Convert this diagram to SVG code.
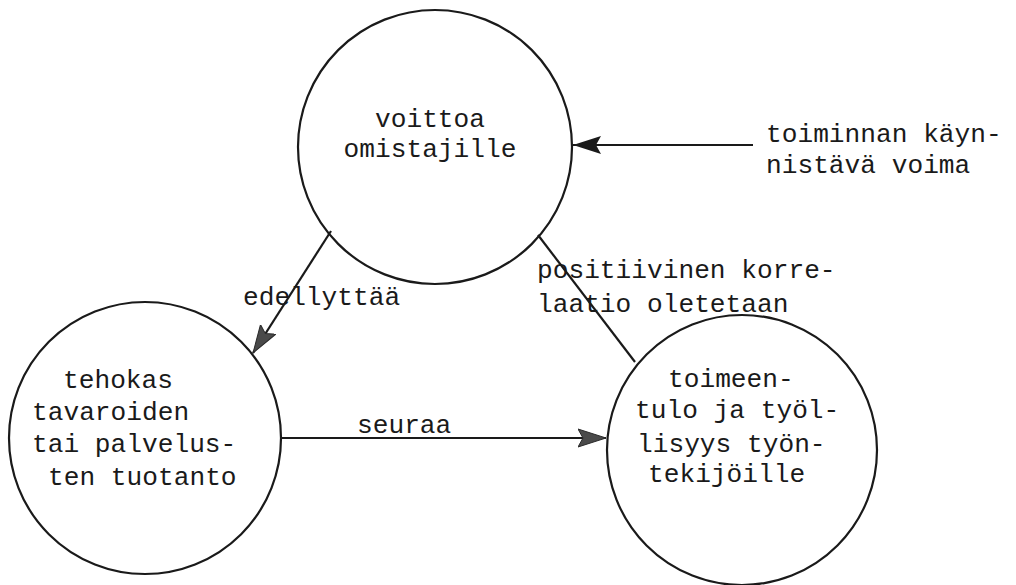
<svg xmlns="http://www.w3.org/2000/svg" width="1016" height="585" viewBox="0 0 1016 585">
<style>
.node circle{fill:none;stroke:#1a1a1a;stroke-width:2.2}
text{font-family:"Liberation Mono","DejaVu Sans Mono",monospace;font-size:26.2px;fill:#1a1a1a}
.conn line{stroke:#1a1a1a;stroke-width:2.2}
</style>
<defs>
<marker id="ahDark" markerUnits="userSpaceOnUse" markerWidth="30" markerHeight="20" viewBox="0 0 30 20" refX="28" refY="10" orient="auto">
<path d="M0,1 L28,10 L0,19 L5,10 Z" fill="#1a1a1a"/>
</marker>
<marker id="ahGray" markerUnits="userSpaceOnUse" markerWidth="30" markerHeight="22" viewBox="0 0 30 22" refX="28" refY="11" orient="auto">
<path d="M0,2 L28,11 L0,20 L5,11 Z" fill="#4a4a4a" stroke="#2a2a2a" stroke-width="1"/>
</marker>
</defs>
<rect width="1016" height="585" fill="#fff"/>
<g id="node-voittoa" class="node">
<circle cx="435" cy="147" r="137"/>
<text x="430" y="127" text-anchor="middle">voittoa</text>
<text x="430" y="157" text-anchor="middle">omistajille</text>
</g>
<g id="node-tuotanto" class="node">
<circle cx="145" cy="438" r="136"/>
<text x="63" y="388">tehokas</text>
<text x="32" y="420">tavaroiden</text>
<text x="32" y="452">tai palvelus-</text>
<text x="48" y="485">ten tuotanto</text>
</g>
<g id="node-toimeentulo" class="node">
<circle cx="742" cy="450" r="135"/>
<text x="668" y="387">toimeen-</text>
<text x="635" y="418">tulo ja työl-</text>
<text x="637" y="452">lisyys työn-</text>
<text x="648" y="482">tekijöille</text>
</g>
<g id="node-voima">
<text x="766" y="142">toiminnan käyn-</text>
<text x="766" y="173">nistävä voima</text>
</g>
<g id="connectors" class="conn">
<line x1="753" y1="145" x2="573" y2="145" stroke-width="3" marker-end="url(#ahDark)"/>
<line x1="331" y1="231" x2="253" y2="353" marker-end="url(#ahGray)"/>
<line x1="280" y1="438" x2="606" y2="438" marker-end="url(#ahGray)"/>
<line x1="538" y1="235" x2="635" y2="362"/>
<text x="243" y="305">edellyttää</text>
<text x="357" y="433">seuraa</text>
<text x="537" y="278">positiivinen korre-</text>
<text x="537" y="312">laatio oletetaan</text>
</g>
</svg>
